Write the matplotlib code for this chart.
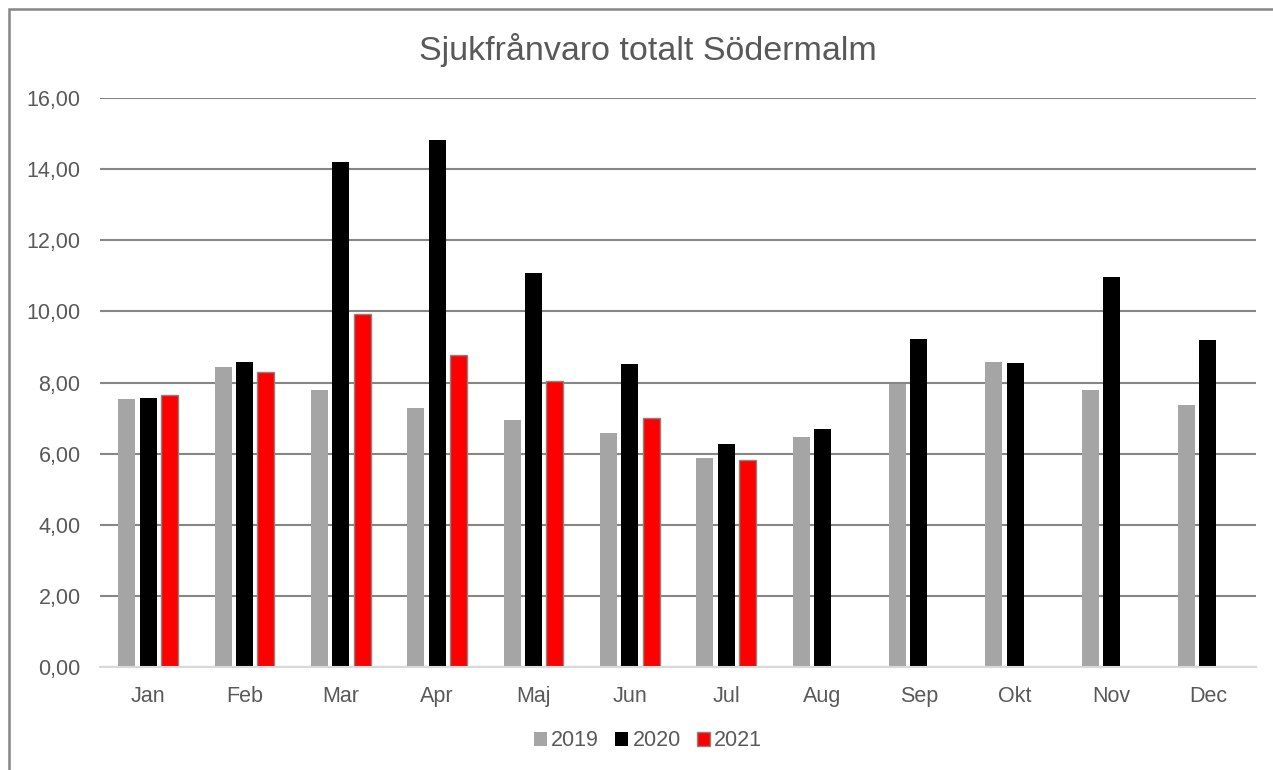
import matplotlib.pyplot as plt
import matplotlib.patches as mpatches
import numpy as np

plt.rcParams['font.family'] = ['Liberation Sans', 'DejaVu Sans']

TEXT_COLOR = '#595959'
GRID_COLOR = '#868686'

months = ['Jan', 'Feb', 'Mar', 'Apr', 'Maj', 'Jun', 'Jul', 'Aug', 'Sep', 'Okt', 'Nov', 'Dec']
y2019 = [7.54, 8.44, 7.80, 7.27, 6.95, 6.58, 5.89, 6.47, 7.97, 8.59, 7.79, 7.37]
y2020 = [7.56, 8.57, 14.19, 14.82, 11.08, 8.52, 6.27, 6.68, 9.23, 8.56, 10.98, 9.20]
y2021 = [7.64, 8.30, 9.92, 8.78, 8.05, 7.01, 5.82]
y_ticks = [0, 2, 4, 6, 8, 10, 12, 14, 16]


def main():
    fig = plt.figure(figsize=(12.73, 7.70), dpi=100)
    ax = fig.add_axes([100 / 1273, 103 / 770, 1156 / 1273, 569 / 770])

    # outer chart border (runs past the right and bottom edge of the picture)
    fig.patches.append(mpatches.Rectangle((9 / 1273, -0.1), 1.2, 1 - 9 / 770 + 0.1,
                                          transform=fig.transFigure, fill=False,
                                          edgecolor=GRID_COLOR, linewidth=1.8))

    x = np.arange(len(months))
    width = 0.177
    step = 0.221
    ax.bar(x - step, y2019, width, color='#a5a5a5', label='2019', zorder=3)
    ax.bar(x, y2020, width, color='black', label='2020', zorder=3)
    ax.bar(x[:len(y2021)] + step, y2021, width, color='#ff0000', edgecolor='#868686',
           linewidth=1.0, label='2021', zorder=3)

    ax.set_xlim(-0.5, len(months) - 0.5)
    ax.set_ylim(0, 16)
    ax.set_yticks(y_ticks)
    ax.set_yticklabels([f'{v:.2f}'.replace('.', ',') for v in y_ticks])
    ax.set_xticks(x)
    ax.set_xticklabels(months)
    ax.tick_params(axis='both', length=0, labelsize=15.5, colors=TEXT_COLOR)
    ax.tick_params(axis='y', pad=14)
    ax.tick_params(axis='x', pad=14)

    ax.yaxis.grid(True, color=GRID_COLOR, linewidth=1.5, zorder=0)
    ax.set_axisbelow(True)
    for side in ['top', 'right', 'left']:
        ax.spines[side].set_visible(False)
    ax.spines['bottom'].set_color('#d9d9d9')
    ax.spines['bottom'].set_linewidth(1.5)
    ax.spines['bottom'].set_zorder(4)

    fig.text(648 / 1273, 1 - 50 / 770, 'Sjukfrånvaro totalt Södermalm', ha='center', va='center',
             fontsize=24.5, color=TEXT_COLOR)

    leg = fig.legend(loc='center', bbox_to_anchor=(648 / 1273, 1 - 741 / 770), ncol=3,
                     frameon=False, fontsize=15.5, handlelength=0.6, handleheight=0.6,
                     handletextpad=0.2, columnspacing=0.75, borderpad=0)
    for t in leg.get_texts():
        t.set_color(TEXT_COLOR)

    fig.savefig('out.png', dpi=100)
    plt.close(fig)


if __name__ == '__main__':
    main()
